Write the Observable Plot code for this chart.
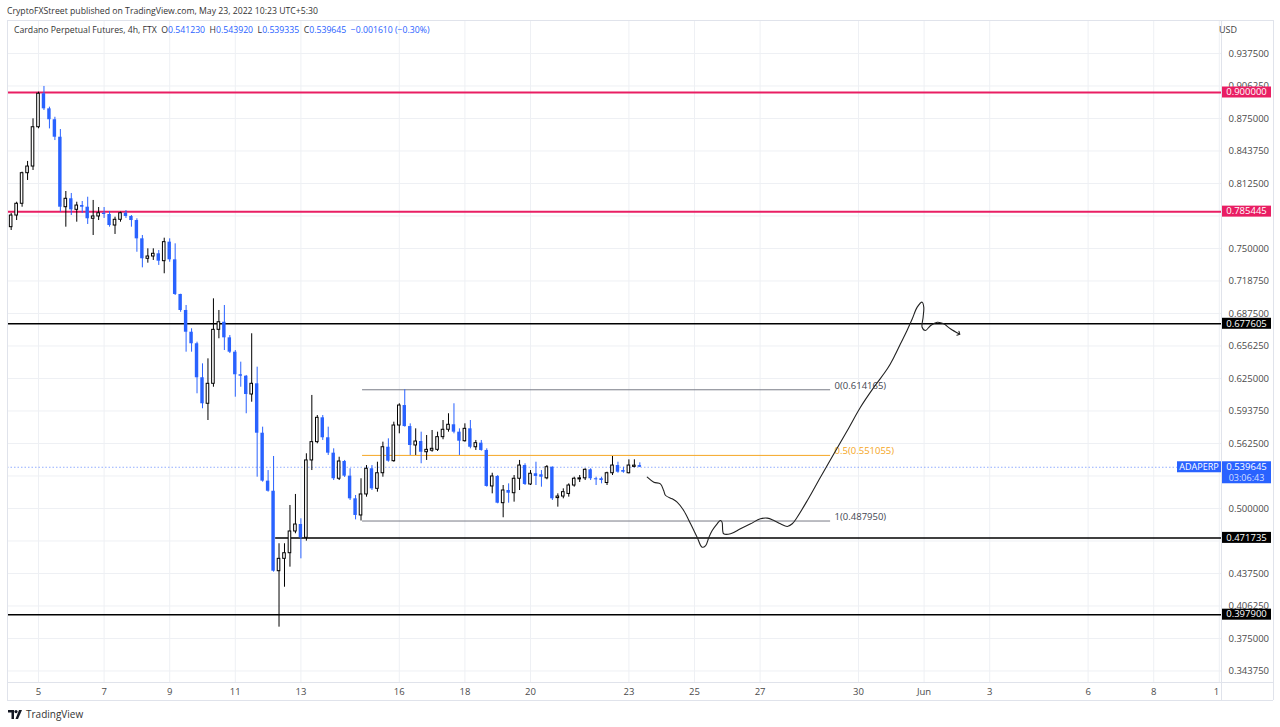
<!DOCTYPE html>
<html>
<head>
<meta charset="utf-8">
<script src="https://cdn.jsdelivr.net/npm/d3@7"></script>
<script src="https://cdn.jsdelivr.net/npm/@observablehq/plot@0.6"></script>
<style>
  html, body { margin: 0; padding: 0; background: #fff; }
  body { width: 1280px; height: 727px; overflow: hidden; position: relative; font-family: "Open Sans", sans-serif; }
  #pub { position: absolute; left: 7px; top: 5px; font-size: 8.7px; line-height: 12px; color: #333; white-space: nowrap; }
  #legend { position: absolute; left: 14px; top: 24px; font-size: 8.7px; line-height: 12px; color: #333; white-space: pre; z-index: 2; }
  #legend .v { color: #2962ff; }
  #chart { position: absolute; left: 0; top: 20px; }
  #foot { position: absolute; left: 8px; top: 708px; font-size: 10px; line-height: 12px; color: #333; display: flex; align-items: center; gap: 4px; }
</style>
</head>
<body>
<div id="pub">CryptoFXStreet published on TradingView.com, May 23, 2022 10:23 UTC+5:30</div>
<div id="legend">Cardano Perpetual Futures, 4h, FTX  O<span class="v">0.541230</span>  H<span class="v">0.543920</span>  L<span class="v">0.539335</span>  C<span class="v">0.539645</span>  <span class="v">−0.001610 (−0.30%)</span></div>
<div id="chart"></div>
<div id="foot"><svg width="14" height="9" viewBox="0 0 14 9"><path d="M0 0h6v9H3.5V2.5H0z" fill="#131722"/><circle cx="8" cy="1.6" r="1.6" fill="#131722"/><path d="M11 0h3L10 9H7.5z" fill="#131722"/></svg><span>TradingView</span></div>
<script>
// ---------- data ----------
const candleStart = Date.UTC(2022, 4, 4, 4); // first 4h candle (chart time)
const candleHours = 4;
const open = [0.7705,0.7817,0.7930,0.8224,0.8288,0.8666,0.8988,0.8843,0.8738,0.8570,
  0.7897,0.7978,0.7872,0.7913,0.7897,0.7786,0.7808,0.7839,0.7827,0.7721,
  0.7776,0.7839,0.7808,0.7769,0.7593,0.7401,0.7423,0.7449,0.7378,0.7561,
  0.7391,0.7058,0.6904,0.6695,0.6584,0.6257,0.6007,0.6199,0.6718,0.6791,
  0.6641,0.6503,0.6286,0.6272,0.6096,0.6199,0.5724,0.5263,0.5166,0.4397,
  0.4516,0.4570,0.4779,0.4846,0.4718,0.5462,0.5638,0.5872,0.5680,0.5532,
  0.5286,0.5452,0.5311,0.5093,0.4933,0.5135,0.5382,0.5189,0.5339,0.5589,
  0.5455,0.5798,0.5990,0.5788,0.5606,0.5644,0.5541,0.5556,0.5564,0.5686,
  0.5757,0.5805,0.5734,0.5647,0.5766,0.5589,0.5628,0.5558,0.5212,0.5308,
  0.5051,0.5173,0.5147,0.5286,0.5413,0.5231,0.5334,0.5324,0.5290,0.5397,
  0.5100,0.5115,0.5140,0.5221,0.5280,0.5290,0.5372,0.5286,0.5286,0.5245,
  0.5339,0.5413,0.5365,0.5339,0.5400,0.541230];
const high = [0.7837,0.7945,0.8234,0.8337,0.8747,0.9003,0.9058,0.8859,0.8762,0.8644,
  0.8048,0.8029,0.7945,0.7952,0.7993,0.7962,0.7894,0.7894,0.7856,0.7801,
  0.7849,0.7865,0.7817,0.7786,0.7625,0.7497,0.7497,0.7481,0.7599,0.7593,
  0.7545,0.7060,0.6952,0.6728,0.6599,0.6391,0.6439,0.7016,0.6904,0.6952,
  0.6663,0.6519,0.6407,0.6279,0.6680,0.6359,0.5782,0.5365,0.5500,0.4661,
  0.4661,0.5029,0.5135,0.4901,0.5526,0.6087,0.5894,0.5894,0.5782,0.5574,
  0.5493,0.5462,0.5382,0.5125,0.5286,0.5413,0.5413,0.5445,0.5638,0.5670,
  0.5830,0.6007,0.614165,0.5814,0.5766,0.5734,0.5702,0.5750,0.5734,0.5846,
  0.5911,0.6007,0.5766,0.5814,0.5846,0.5654,0.5654,0.5574,0.5339,0.5317,
  0.5221,0.5237,0.5317,0.5462,0.5430,0.5365,0.5445,0.5365,0.5413,0.5400,
  0.5141,0.5189,0.5237,0.5301,0.5317,0.5382,0.5382,0.5301,0.5301,0.5349,
  0.5500,0.5445,0.5397,0.5468,0.5468,0.543920];
const low = [0.7673,0.7769,0.7897,0.8154,0.8250,0.8651,0.8827,0.8650,0.8538,0.7849,
  0.7705,0.7817,0.7753,0.7837,0.7731,0.7625,0.7769,0.7789,0.7705,0.7635,
  0.7753,0.7789,0.7705,0.7464,0.7314,0.7359,0.7385,0.7337,0.7257,0.7368,
  0.7048,0.6887,0.6503,0.6503,0.6103,0.5959,0.5846,0.6166,0.6632,0.6519,
  0.6490,0.6070,0.6166,0.5911,0.6022,0.5301,0.5253,0.5157,0.4388,0.3859,
  0.4243,0.4436,0.4757,0.4516,0.4686,0.5365,0.5622,0.5654,0.5510,0.5269,
  0.5269,0.5298,0.5077,0.4891,0.48795,0.5109,0.5173,0.5157,0.5301,0.5445,
  0.5445,0.5718,0.5782,0.5510,0.5510,0.5430,0.5462,0.5541,0.5548,0.5661,
  0.5734,0.5718,0.5510,0.5638,0.5574,0.5558,0.5551,0.5205,0.5141,0.5045,
  0.4911,0.5051,0.5061,0.5173,0.5221,0.5221,0.5221,0.5205,0.5276,0.5077,
  0.5013,0.5093,0.5109,0.5205,0.5250,0.5269,0.5269,0.5221,0.5237,0.5221,
  0.5317,0.5339,0.5339,0.5333,0.5391,0.539335];
const close = [0.7817,0.7930,0.8224,0.8288,0.8666,0.8988,0.8843,0.8738,0.8570,0.7897,
  0.7978,0.7872,0.7913,0.7897,0.7786,0.7808,0.7839,0.7827,0.7721,0.7776,
  0.7839,0.7808,0.7769,0.7593,0.7401,0.7423,0.7449,0.7378,0.7561,0.7391,
  0.7058,0.6904,0.6695,0.6584,0.6257,0.6007,0.6199,0.6718,0.6791,0.6641,
  0.6503,0.6286,0.6272,0.6096,0.6199,0.5724,0.5263,0.5166,0.4397,0.4516,
  0.4570,0.4779,0.4846,0.4718,0.5462,0.5638,0.5872,0.5680,0.5532,0.5286,
  0.5452,0.5311,0.5093,0.4933,0.5135,0.5382,0.5189,0.5339,0.5589,0.5455,
  0.5798,0.5990,0.5788,0.5606,0.5644,0.5541,0.5564,0.5574,0.5686,0.5757,
  0.5805,0.5734,0.5647,0.5766,0.5589,0.5628,0.5558,0.5212,0.5308,0.5051,
  0.5173,0.5147,0.5286,0.5413,0.5231,0.5334,0.5308,0.5301,0.5397,0.5093,
  0.5115,0.5157,0.5221,0.5286,0.5290,0.5372,0.5286,0.5276,0.5269,0.5339,
  0.5413,0.5349,0.5349,0.5413,0.5412,0.539645];

// price levels drawn on the chart
const levelPrices = [0.900000, 0.785445, 0.677605, 0.471735, 0.397900];
const levelColors = ["#e91e63", "#e91e63", "#000000", "#000000", "#000000"];
const levelStartDay = [null, null, null, 12.23, null]; // day of May where a level starts (null = full width)

// fibonacci retracement
const fibLabels = ["0(0.614165)", "0.5(0.551055)", "1(0.487950)"];
const fibPrices = [0.614165, 0.551055, 0.487950];
const fibColors = ["#787b86", "#f5a623", "#787b86"];
const fibTextColors = ["#434651", "#f5a623", "#434651"];
const fibStartDay = 14.88, fibEndDay = 29.15;

// hand-drawn projection path (day of May, price)
const pathDay = [23.56,23.76,23.96,24.06,24.12,24.32,24.47,24.67,24.88,25.08,25.23,25.34,25.44,25.54,25.69,25.79,25.84,25.86,25.89,26.10,26.40,26.71,27.01,27.22,27.42,27.62,27.83,27.98,28.13,28.44,28.84,29.25,29.66,30.06,30.47,30.88,31.08,31.28,31.48,31.64,31.79,31.94,31.99,31.97,31.94,32.04,32.20,32.40,32.60,32.80,33.06];
const pathPrice = [0.5301,0.5253,0.5237,0.5173,0.5125,0.5093,0.5061,0.4981,0.4853,0.4724,0.4628,0.4644,0.4724,0.4788,0.4853,0.4885,0.4869,0.4788,0.4757,0.4757,0.4805,0.4853,0.4901,0.4907,0.4885,0.4853,0.4827,0.4853,0.4916,0.5077,0.5301,0.5526,0.5750,0.5974,0.6166,0.6343,0.6455,0.6584,0.6712,0.6824,0.6936,0.6984,0.6936,0.6839,0.6743,0.6712,0.6760,0.6791,0.6776,0.6728,0.6680];

// axes
const xTickDates = ["2022-05-05","2022-05-07","2022-05-09","2022-05-11","2022-05-13","2022-05-16","2022-05-18","2022-05-20","2022-05-23","2022-05-25","2022-05-27","2022-05-30","2022-06-01","2022-06-03","2022-06-06","2022-06-08","2022-06-10"];
const yTicks = [0.34375,0.375,0.40625,0.4375,0.46875,0.5,0.53125,0.5625,0.59375,0.625,0.65625,0.6875,0.71875,0.75,0.78125,0.8125,0.84375,0.875,0.90625,0.9375];
const yTicksCovered = [0.46875, 0.53125, 0.78125]; // labels fully hidden behind price tags
const xDomainDays = [4.055, 41.067];  // day of May at the left / right edge
const yDomain = [0.33269, 0.96923];

const symbol = "ADAPERP";
const countdown = "03:06:43";

// ---------- helpers ----------
const HOUR = 3600e3, DAY = 864e5;
const mayDay = d => new Date(Date.UTC(2022, 4, 1) + (d - 1) * DAY);
const candles = open.map((o, i) => ({
  date: new Date(candleStart + i * candleHours * HOUR),
  open: o, high: high[i], low: low[i], close: close[i], up: close[i] >= o
}));
const upC = candles.filter(d => d.up), downC = candles.filter(d => !d.up);
const last = candles[candles.length - 1];
const xTicks = xTickDates.map(s => new Date(s + "T00:00Z"));
const xDomain = xDomainDays.map(mayDay);
const yLabelTicks = yTicks.filter(t => !yTicksCovered.includes(t));
const fmtDay = d => d.getUTCDate() === 1 ? "Jun" : String(d.getUTCDate());
const fmtP = d3.format(".6f");

const levels = levelPrices.map((p, i) => ({price: p, color: levelColors[i], start: levelStartDay[i] == null ? xDomain[0] : mayDay(levelStartDay[i]), end: xDomain[1]}));
const fibs = fibPrices.map((p, i) => ({price: p, label: fibLabels[i], color: fibColors[i], tcolor: fibTextColors[i], start: mayDay(fibStartDay), end: mayDay(fibEndDay)}));
const path = pathDay.map((d, i) => ({date: mayDay(d), price: pathPrice[i]}));

function overlay(index, scales, values, dims) {
  const {width, height, marginRight, marginBottom, marginLeft} = dims;
  const xR = width - marginRight, yB = height - marginBottom;
  const y = (scales && typeof scales.y === "function") ? scales.y : d3.scaleLinear(yDomain, [yB, 0]);
  const g = d3.create("svg:g").attr("font-family", "Open Sans, sans-serif");
  const border = "#e0e3eb";
  // cover the clipped corner under the price scale
  g.append("rect").attr("x", xR - 2.5).attr("y", yB + 0.5).attr("width", marginRight + 3).attr("height", marginBottom - 2).attr("fill", "#fff");
  // frame borders
  const lines = [
    [marginLeft, 0.5, width - 7, 0.5],
    [marginLeft + 0.5, 0, marginLeft + 0.5, height - 2],
    [xR + 0.5, 0, xR + 0.5, height - 2],
    [width - 6.5, 0, width - 6.5, height - 2],
    [marginLeft, yB + 0.5, width - 7, yB + 0.5],
    [marginLeft, height - 1.5, width - 7, height - 1.5]
  ];
  for (const [x1, y1, x2, y2] of lines) g.append("line").attr("x1", x1).attr("y1", y1).attr("x2", x2).attr("y2", y2).attr("stroke", border);
  g.append("text").attr("x", xR + 7).attr("y", 10).attr("dy", "0.32em").attr("font-size", 9).attr("fill", "#444").text("USD");
  // level price tags
  for (const l of levels) {
    const yy = y(l.price);
    g.append("rect").attr("x", xR + 1).attr("y", yy - 5.5).attr("width", 49).attr("height", 11).attr("fill", l.color);
    g.append("text").attr("x", xR + 25.5).attr("y", yy).attr("dy", "0.34em").attr("text-anchor", "middle").attr("font-size", 9.5).attr("fill", "#fff").text(fmtP(l.price));
  }
  // current price tag
  const yc = y(last.close);
  g.append("rect").attr("x", xR - 44).attr("y", yc - 5.5).attr("width", 44).attr("height", 11).attr("fill", "#2962ff");
  g.append("text").attr("x", xR - 22).attr("y", yc).attr("dy", "0.34em").attr("text-anchor", "middle").attr("font-size", 9).attr("fill", "#fff").text(symbol);
  g.append("rect").attr("x", xR + 1).attr("y", yc - 5.5).attr("width", 49).attr("height", 22).attr("fill", "#2962ff");
  g.append("text").attr("x", xR + 25.5).attr("y", yc).attr("dy", "0.34em").attr("text-anchor", "middle").attr("font-size", 9.5).attr("fill", "#fff").text(fmtP(last.close));
  g.append("text").attr("x", xR + 25.5).attr("y", yc + 11).attr("dy", "0.34em").attr("text-anchor", "middle").attr("font-size", 9).attr("fill", "#fff").attr("fill-opacity", 0.8).text(countdown);
  return g.node();
}

const chart = Plot.plot({
  width: 1280,
  height: 682,
  marginLeft: 7,
  marginRight: 59,
  marginTop: 0,
  marginBottom: 20,
  x: {type: "utc", domain: xDomain},
  y: {domain: yDomain},
  style: {fontFamily: "Open Sans, sans-serif", fontSize: "9.5px", background: "transparent", overflow: "visible", color: "#4a4a4a"},
  marks: [
    Plot.gridX(xTicks, {stroke: "#eef0f4", strokeOpacity: 1}),
    Plot.gridY(yTicks, {stroke: "#eef0f4", strokeOpacity: 1}),
    Plot.axisX(xTicks, {tickSize: 0, tickPadding: 6, tickFormat: fmtDay, fill: "#4a4a4a", fontSize: 9.5, label: null}),
    Plot.axisY(yLabelTicks, {anchor: "right", tickSize: 0, tickPadding: 7, textAnchor: "start", tickFormat: fmtP, fill: "#4a4a4a", fontSize: 9.5, label: null}),
    Plot.ruleY([last.close], {stroke: "#2962ff", strokeOpacity: 0.5, strokeDasharray: "1.5,2"}),
    Plot.ruleY(fibs, {y: "price", x1: "start", x2: "end", stroke: "color", strokeWidth: 1}),
    Plot.text(fibs, {x: "end", y: "price", text: "label", fill: "tcolor", textAnchor: "start", dx: 4, dy: -4, fontSize: 9.5}),
    Plot.ruleY(levels, {y: "price", x1: "start", x2: "end", stroke: "color", strokeWidth: d => d.color === "#000000" ? 1.5 : 2}),
    Plot.ruleX(downC, {x: "date", y1: "low", y2: "high", stroke: "#2962ff", strokeWidth: 1}),
    Plot.ruleX(upC, {x: "date", y1: "low", y2: "high", stroke: "#000", strokeWidth: 1}),
    Plot.rect(downC, {x1: d => new Date(+d.date - 1.25 * HOUR), x2: d => new Date(+d.date + 1.25 * HOUR), y1: "open", y2: "close", fill: "#2962ff"}),
    Plot.rect(upC, {x1: d => new Date(+d.date - 0.95 * HOUR), x2: d => new Date(+d.date + 0.95 * HOUR), y1: "open", y2: "close", fill: "#fff", stroke: "#000", strokeWidth: 1}),
    Plot.line(path, {x: "date", y: "price", curve: "catmull-rom", stroke: "#222", strokeWidth: 1.1, markerEnd: "arrow"}),
    overlay
  ]
});
document.getElementById("chart").appendChild(chart);
</script>
</body>
</html>
